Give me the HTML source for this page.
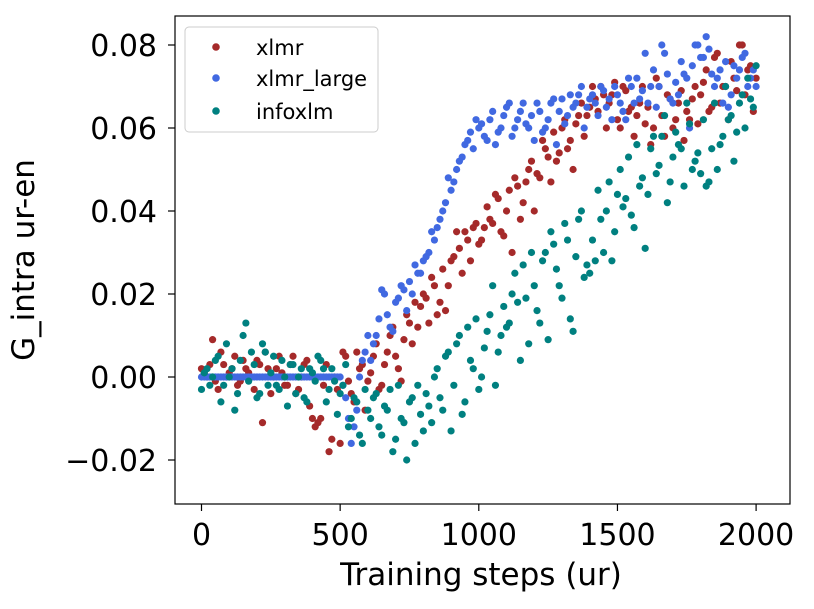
<!DOCTYPE html>
<html><head><meta charset="utf-8"><style>
body{margin:0;background:#fff;}
svg{display:block;font-family:"DejaVu Sans","Liberation Sans",sans-serif;}
</style></head><body>
<svg id="chart" width="814" height="609" xmlns="http://www.w3.org/2000/svg"></svg>
<script>
const seriesNames = ["xlmr","xlmr_large","infoxlm"];
const seriesColors = ["#a52a2a","#4169e1","#008080"];
const xStart = 0, xStep = 20, xStartB = 10;
const xlmrVals = [2,0,9,-3,3,1,5,-1,2,0,4,
-11,2,0,5,-2,3,-4,0,4,-10,
-11,-2,-18,0,-16,5,-4,6,3,-1,
5,-3,3,10,5,-1,15,8,12,20,
13,22,18,16,28,35,25,33,36,32,
36,38,44,35,40,30,46,42,50,40,
48,55,47,52,60,55,50,63,58,65,
67,70,60,68,62,70,64,58,66,61,
56,72,63,68,60,66,57,62,70,68,
74,65,78,70,62,72,80,68,75,72];
const xlmrValsB = [1,3,-1,6,0,2,-2,4,1,-3,
3,6,-4,2,1,-2,5,-3,3,-7,
-12,-10,3,-15,-3,6,-1,-6,2,-8,
1,8,-2,6,12,2,9,13,18,17,
19,24,15,26,22,29,31,35,28,37,
33,41,37,43,34,45,48,38,47,52,
49,57,53,59,54,62,57,61,66,63,
70,64,68,66,71,60,69,65,63,70,
65,60,70,58,67,62,69,64,67,61,
71,64,77,66,70,76,69,80,74,64];
const xlmrLargeVals = [0,0,0,0,0,0,0,0,0,0,0,
0,0,0,0,0,0,0,0,0,0,
0,0,0,0,0,-5,-16,-8,4,10,
8,14,20,12,18,22,16,20,25,28,
30,33,38,42,45,50,53,57,55,60,
58,62,56,60,65,58,62,66,60,57,
64,60,66,56,67,63,65,68,60,67,
66,70,65,62,68,64,72,66,67,78,
70,65,80,73,66,68,73,60,80,77,
82,73,72,66,65,75,74,78,72,70];
const xlmrLargeValsB = [0,0,0,0,0,0,0,0,0,0,
0,0,0,0,0,0,0,0,0,0,
0,0,0,0,0,-2,-10,-12,0,6,
4,10,21,15,11,19,21,23,27,25,
29,35,36,40,48,47,52,56,59,62,
61,57,64,59,63,66,60,64,61,63,
66,59,62,67,64,61,68,66,70,65,
68,63,69,67,70,66,62,70,72,69,
66,74,70,78,67,71,76,72,75,80,
77,79,70,74,76,68,72,77,70,74];
const infoxlmVals = [-3,2,0,5,-2,0,-8,4,13,6,-5,
8,-2,5,-3,0,3,-4,2,-6,1,
5,2,-3,-1,-4,3,-10,-6,-16,-8,
-5,-12,-7,-3,-15,-10,-20,-5,-2,-13,
-7,0,-5,5,-13,8,-9,12,2,-3,
7,15,-2,10,12,20,18,27,8,22,
13,30,35,26,19,33,11,38,24,25,
28,38,40,28,44,41,53,36,46,31,
55,49,58,42,53,56,46,61,52,49,
46,55,50,58,62,52,66,60,67,75];
const infoxlmValsB = [1,-2,4,-6,8,2,-4,10,-1,3,
-4,6,1,-2,4,-7,3,0,-5,2,
-1,4,-6,2,-9,-2,-12,-5,-14,-3,
-10,-4,-14,-8,-18,-2,-11,-6,-16,-9,
-4,-11,2,-8,6,-2,10,-6,4,14,
0,11,22,6,17,13,25,4,19,30,
16,28,9,32,22,37,14,29,40,27,
33,45,30,47,35,50,43,39,56,48,
44,58,51,63,47,59,55,66,50,54,
62,47,66,56,70,63,59,68,72,65];
const xTicks = [0,500,1000,1500,2000];
const yTicks = [-0.02,0.00,0.02,0.04,0.06,0.08];
const yTickLabels = ["\u22120.02","0.00","0.02","0.04","0.06","0.08"];

const NS="http://www.w3.org/2000/svg";
const svg=document.getElementById('chart');
const L=175,R=790,T=16,B=504;
const xs=v=>201.5+v*0.2773;
const ys=v=>377-v*4150;
function mk(tag,attrs){const e=document.createElementNS(NS,tag);for(const k in attrs)e.setAttribute(k,attrs[k]);svg.appendChild(e);return e;}

const setsA=[xlmrVals,xlmrLargeVals,infoxlmVals];
const setsB=[xlmrValsB,xlmrLargeValsB,infoxlmValsB];
seriesNames.forEach((name,si)=>{
  const g=document.createElementNS(NS,'g');
  
  
  svg.appendChild(g);
  [[setsA[si],xStart],[setsB[si],xStartB]].forEach(([vals,x0])=>{
    vals.forEach((v,i)=>{
      const c=document.createElementNS(NS,'circle');
      c.setAttribute('cx',xs(x0+i*xStep));
      c.setAttribute('cy',ys(v/1000));
      c.setAttribute('r',3.6);
      c.setAttribute('fill',seriesColors[si]);
      
      
      g.appendChild(c);
    });
  });
});

const frame=mk('rect',{x:L,y:T,width:R-L,height:B-T,fill:'none',stroke:'#000','stroke-width':1.2});



xTicks.forEach(t=>{
  const x=xs(t);
  const l=mk('line',{x1:x,x2:x,y1:B,y2:B+7,stroke:'#000','stroke-width':1.2});
  
  
  const tx=mk('text',{x:x,y:545,'text-anchor':'middle','font-size':30});
  tx.textContent=t;
  
  
});
yTicks.forEach((t,i)=>{
  const y=ys(t);
  const l=mk('line',{x1:L-7,x2:L,y1:y,y2:y,stroke:'#000','stroke-width':1.2});
  
  
  const tx=mk('text',{x:L-18,y:y+11,'text-anchor':'end','font-size':30});
  tx.textContent=yTickLabels[i];
  
  
});
const xl=mk('text',{x:481,y:585,'text-anchor':'middle','font-size':31});
xl.textContent='Training steps (ur)';


const yl=mk('text',{x:0,y:0,'text-anchor':'middle','font-size':31,transform:'translate(34,260) rotate(-90)'});
yl.textContent='G_intra ur-en';



const lg=mk('rect',{x:185,y:27,width:193,height:105,rx:4,fill:'#fff','fill-opacity':0.8,stroke:'#ccc'});


seriesNames.forEach((n,i)=>{
  const y=[47,78,111][i];
  const c=mk('circle',{cx:216,cy:y,r:3.8,fill:seriesColors[i]});
  
  
  const t=mk('text',{x:256,y:y+8,'font-size':21});
  t.textContent=n;
  
  
});
</script>
</body></html>
